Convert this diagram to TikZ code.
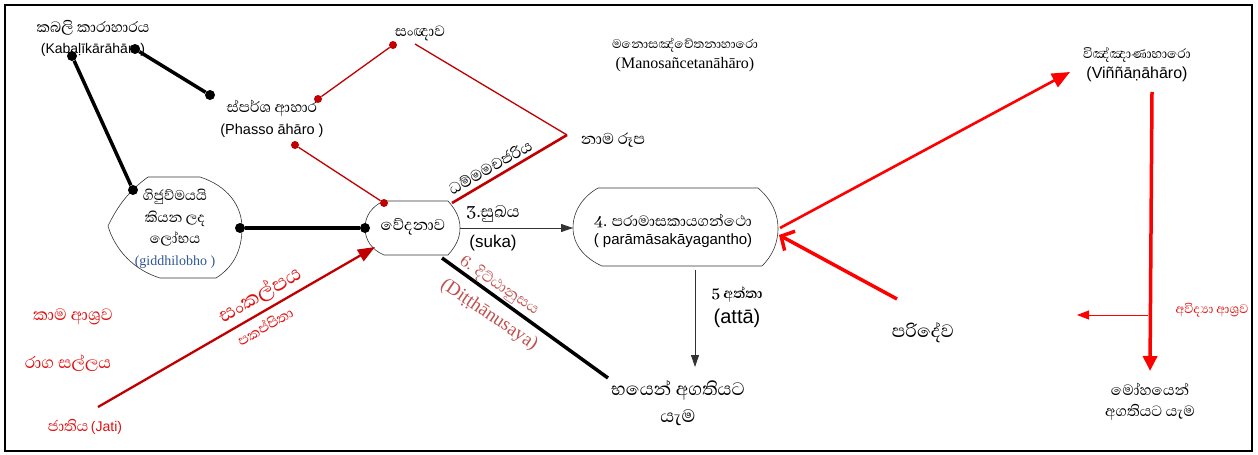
\documentclass[tikz,border=0pt]{standalone}
\usepackage{fontspec}
\setmainfont{Liberation Serif}
\setsansfont{Liberation Sans}
\newfontfamily\sinfont[Script=Sinhala]{Abhaya Libre}
\usetikzlibrary{arrows.meta}
\definecolor{darkred}{HTML}{C00000}
\definecolor{brightred}{HTML}{FF0000}
\definecolor{txtred}{HTML}{E01010}
\definecolor{dustyred}{HTML}{C0504D}
\definecolor{bluegray}{HTML}{2F5597}
\definecolor{linegray}{HTML}{333333}
\newcommand\fsz[2]{\fontsize{#1}{#2}\selectfont}
\begin{document}
\begin{tikzpicture}[x=1pt,y=-1pt,
  bdot/.style={circle,fill=black,inner sep=0pt,minimum size=10pt},
  rdot/.style={circle,fill=darkred,inner sep=0pt,minimum size=8pt},
  thickblack/.style={line width=3.5pt,black},
  thinred/.style={line width=1.3pt,darkred},
  blob/.style={draw=black!80,line width=0.6pt},
  lbl/.style={inner sep=0pt,align=center},
  grayarrow/.style={line width=0.8pt,linegray,-{Triangle[length=12pt,width=8pt]}},
]
\useasboundingbox (0,0) rectangle (1258,455);
\draw[line width=2pt] (5,5) rectangle (1252,451);

% blob outlines
\draw[blob] (148,177) -- (200,177) .. controls (228,186) and (242,206) .. (242,228)
  .. controls (242,252) and (232,268) .. (216,278) -- (160,278)
  .. controls (134,270) and (115,250) .. (108,226)
  .. controls (118,205) and (130,190) .. (148,177) -- cycle;
\draw[blob] (384,201) -- (448,201) .. controls (456,210) and (460,218) .. (460,228)
  .. controls (460,238) and (456,246) .. (448,255) -- (384,255)
  .. controls (372,250) and (365,240) .. (365,228)
  .. controls (365,216) and (372,206) .. (384,201) -- cycle;
\draw[blob] (598,188) -- (758,188) .. controls (772,200) and (778,214) .. (778,228)
  .. controls (778,244) and (772,256) .. (762,266) -- (602,266)
  .. controls (584,258) and (573,244) .. (573,228)
  .. controls (573,210) and (584,196) .. (598,188) -- cycle;

% text nodes
\node[lbl,font=\fsz{14}{21}] (kab) at (93,38) {{\sinfont\fsz{19}{21}කබලි කාරාහාරය}\\{\sffamily\fsz{14}{21}(Kabaḷīkārāhāro)}};
\node[lbl,font=\fsz{14.5}{22}] (phasso) at (272,119) {{\sinfont\fsz{19}{22}ස්පර්ශ ආහාර}\\{\sffamily\fsz{14.5}{22}(Phasso āhāro )}};
\node[lbl,font=\sinfont\fsz{19}{20}] (sanna) at (420,33) {සංඥාව};
\node[lbl,font=\sinfont\fsz{20}{22}] (nama) at (613,140) {නාම රූප};
\node[lbl,font=\fsz{16}{20}] (mano) at (685,55) {{\sinfont\fsz{16}{20}මනොසඤ්චේතනාහාරො}\\{\fsz{16}{20}(Manosañcetanāhāro)}};
\node[lbl,font=\fsz{16}{20}] (vinn) at (1137,65) {{\sinfont\fsz{17}{20}විඤ්ඤාණාහාරො}\\{\sffamily\fsz{16}{20}(Viññāṇāhāro)}};
\node[lbl,font=\fsz{18}{21.5}] (gidd) at (175,229) {{\sinfont\fsz{18}{21.5}ගිජුව්මයයි}\\{\sinfont\fsz{18}{21.5}කියන ලද}\\{\sinfont\fsz{18}{21.5}ලෝභය}\\{\color{bluegray}\fsz{14}{21.5}(giddhilobho )}};
\node[lbl,font=\sinfont\fsz{20}{22}] (vedana) at (413,227) {වේදනාව};
\node[lbl,font=\sinfont\fsz{21}{22}] (sukha) at (493,214) {3.සුඛය};
\node[lbl,font=\sffamily\fsz{17}{20}] (suka) at (493,243) {(suka)};
\node[lbl,font=\fsz{15}{18.5}] (param) at (673,231) {{\sinfont\fsz{19}{18.5}4. පරාමාසකායගන්ථො}\\{\sffamily\fsz{15}{18.5}( parāmāsakāyagantho)}};
\node[lbl,font=\sinfont\bfseries\fsz{18}{20}] (atta1) at (737,295) {5 අත්තා};
\node[lbl,font=\sffamily\fsz{20}{22}] (atta2) at (737,318) {(attā)};
\node[lbl,font=\fsz{23}{27}] (bhayen) at (678,403) {{\sinfont\fsz{23}{27}භයෙන් අගතියට}\\{\sinfont\fsz{23}{27}යැම}};
\node[lbl,font=\sinfont\fsz{23}{24}] (parid) at (923,333) {පරිදේව};
\node[lbl,text=txtred,font=\sinfont\fsz{16}{18}] (avidya) at (1212,310) {අවිද්‍යා ආශ්‍රව};
\node[lbl,font=\fsz{19}{21}] (moha) at (1150,402) {{\sinfont\fsz{19}{21}මෝහයෙන්}\\{\sinfont\fsz{19}{21}අගතියට යැම}};
\node[lbl,text=txtred,font=\sinfont\fsz{21}{22}] (kama) at (73,317) {කාම ආශ්‍රව};
\node[lbl,text=txtred,font=\sinfont\fsz{21}{22}] (raga) at (68,363) {රාග සල්ලය};
\node[lbl,text=txtred] (jati) at (85,427) {{\sinfont\fsz{19}{20}ජාතිය} {\sffamily\fsz{14}{20}(Jati)}};
\node[lbl,rotate=30,font=\sinfont\fsz{20}{22}] (dhamma) at (490,167) {ධම්මමචජරිය};
\node[lbl,rotate=-34,text=dustyred,font=\sinfont\fsz{19}{20}] (ditth1) at (499,286) {6. දිට්ඨානුසය};
\node[lbl,rotate=-34,text=dustyred,font=\fsz{19}{22}] (ditth2) at (489,315) {(Diṭṭhānusaya)};
\node[lbl,rotate=30,text=txtred,font=\sinfont\fsz{26}{28}] (sankalpa) at (260,295) {සංකල්පය};
\node[lbl,rotate=30,text=txtred,font=\sinfont\fsz{18}{20}] (pakappita) at (265,326) {පකප්පිතා};

% dots
\node[bdot] (d1) at (72,56) {};
\node[bdot] (d2) at (135,49) {};
\node[bdot] (d3) at (210,95) {};
\node[bdot] (d4) at (133,190) {};
\node[bdot] (d5) at (240,228) {};
\node[bdot] (d6) at (365,228) {};
\node[rdot] (r1) at (318,99) {};
\node[rdot] (r2) at (393,45) {};
\node[rdot] (r3) at (295,145) {};
\node[rdot] (r4) at (384,203) {};

% coordinates
\coordinate (sannaend) at (415,44);
\coordinate (namapt) at (567,135);
\coordinate (vedtr) at (452,203);
\coordinate (vedr) at (460,228);
\coordinate (paraml) at (573,228);
\coordinate (paramb) at (695,270);
\coordinate (atip) at (695,367);
\coordinate (vedb) at (442,258);
\coordinate (bhayenpt) at (608,378);
\coordinate (jatipt) at (98,407);
\coordinate (vedbl) at (375,247);
\coordinate (paramr) at (780,228);
\coordinate (vinnpt) at (1070,72);
\coordinate (vinnb) at (1152,92);
\coordinate (mohapt) at (1150,371);
\coordinate (avs) at (1148,315);
\coordinate (ave) at (1077,315);
\coordinate (paridpt) at (897,299);
\coordinate (paramr2) at (779,235);

% connectors
\draw[thickblack] (d1) -- (d4);
\draw[thickblack] (d2) -- (d3);
\draw[thickblack] (d5) -- (d6);
\draw[thinred] (r1) -- (r2);
\draw[thinred] (r3) -- (r4);
\draw[thinred] (sannaend) -- (namapt);
\draw[line width=2.6pt,darkred] (vedtr) -- (namapt);
\draw[grayarrow] (vedr) -- (paraml);
\draw[grayarrow] (paramb) -- (atip);
\draw[line width=3.5pt] (vedb) -- (bhayenpt);
\draw[line width=2.3pt,darkred,-{Triangle[length=17pt,width=13pt]}] (jatipt) -- (vedbl);
\draw[line width=2.6pt,brightred,-{Triangle[length=18pt,width=15pt]}] (paramr) -- (vinnpt);
\draw[line width=3.5pt,brightred,-{Triangle[length=15pt,width=14pt]}] (vinnb) -- (mohapt);
\draw[line width=0.8pt,brightred,-{Triangle[length=12pt,width=9pt]}] (avs) -- (ave);
\draw[line width=3.5pt,brightred,-{Straight Barb[length=10pt,width=22pt]}] (paridpt) -- (paramr2);
\end{tikzpicture}
\end{document}
